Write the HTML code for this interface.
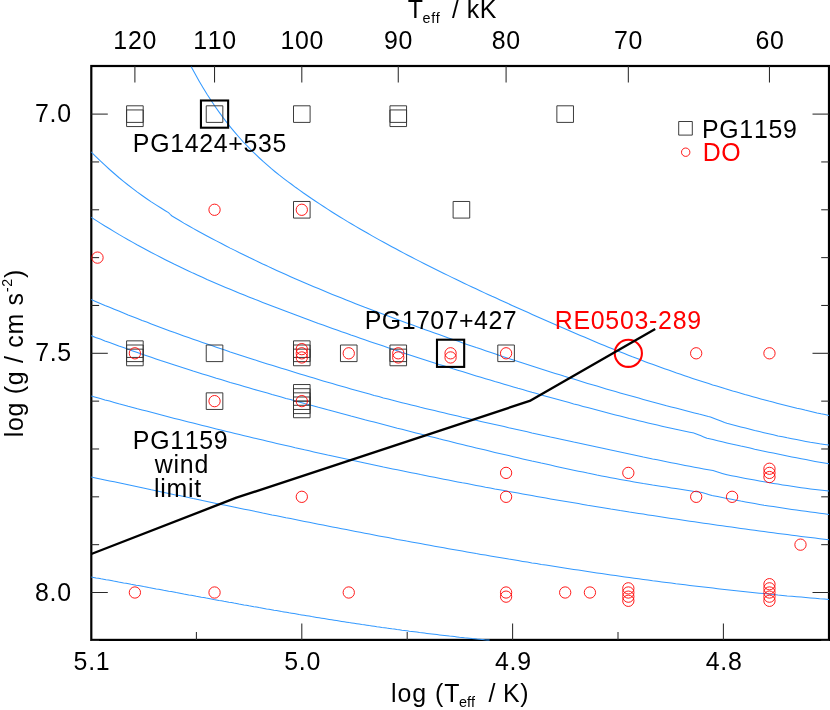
<!DOCTYPE html>
<html><head><meta charset="utf-8"><title>log Teff - log g</title>
<style>
html,body{margin:0;padding:0;background:#fff;}
body{width:830px;height:710px;overflow:hidden;}
svg{display:block;will-change:transform;}
text{font-family:"Liberation Sans",sans-serif;}
</style></head><body>
<svg width="830" height="710" viewBox="0 0 830 710">
<rect x="0" y="0" width="830" height="710" fill="#ffffff"/>
<defs><clipPath id="clip"><rect x="91.3" y="66.0" width="739.7" height="575.1"/></clipPath></defs>
<rect x="91.3" y="66.0" width="737.7" height="573.9" fill="none" stroke="#000" stroke-width="2.2"/>
<g stroke="#2a2a2a" stroke-width="1.05" fill="none">
<line x1="301.80" y1="639.9" x2="301.80" y2="623.4"/>
<line x1="512.60" y1="639.9" x2="512.60" y2="623.4"/>
<line x1="723.40" y1="639.9" x2="723.40" y2="623.4"/>
<line x1="196.40" y1="639.9" x2="196.40" y2="632.1"/>
<line x1="407.20" y1="639.9" x2="407.20" y2="632.1"/>
<line x1="618.00" y1="639.9" x2="618.00" y2="632.1"/>
<line x1="134.89" y1="66.0" x2="134.89" y2="82.5"/>
<line x1="214.54" y1="66.0" x2="214.54" y2="82.5"/>
<line x1="301.80" y1="66.0" x2="301.80" y2="82.5"/>
<line x1="398.26" y1="66.0" x2="398.26" y2="82.5"/>
<line x1="506.09" y1="66.0" x2="506.09" y2="82.5"/>
<line x1="628.33" y1="66.0" x2="628.33" y2="82.5"/>
<line x1="769.46" y1="66.0" x2="769.46" y2="82.5"/>
<line x1="91.3" y1="114.10" x2="107.8" y2="114.10"/>
<line x1="829.0" y1="114.10" x2="812.5" y2="114.10"/>
<line x1="91.3" y1="161.94" x2="99.1" y2="161.94"/>
<line x1="829.0" y1="161.94" x2="821.2" y2="161.94"/>
<line x1="91.3" y1="209.78" x2="99.1" y2="209.78"/>
<line x1="829.0" y1="209.78" x2="821.2" y2="209.78"/>
<line x1="91.3" y1="257.62" x2="99.1" y2="257.62"/>
<line x1="829.0" y1="257.62" x2="821.2" y2="257.62"/>
<line x1="91.3" y1="305.46" x2="99.1" y2="305.46"/>
<line x1="829.0" y1="305.46" x2="821.2" y2="305.46"/>
<line x1="91.3" y1="353.30" x2="107.8" y2="353.30"/>
<line x1="829.0" y1="353.30" x2="812.5" y2="353.30"/>
<line x1="91.3" y1="401.14" x2="99.1" y2="401.14"/>
<line x1="829.0" y1="401.14" x2="821.2" y2="401.14"/>
<line x1="91.3" y1="448.98" x2="99.1" y2="448.98"/>
<line x1="829.0" y1="448.98" x2="821.2" y2="448.98"/>
<line x1="91.3" y1="496.82" x2="99.1" y2="496.82"/>
<line x1="829.0" y1="496.82" x2="821.2" y2="496.82"/>
<line x1="91.3" y1="544.66" x2="99.1" y2="544.66"/>
<line x1="829.0" y1="544.66" x2="821.2" y2="544.66"/>
<line x1="91.3" y1="592.50" x2="107.8" y2="592.50"/>
<line x1="829.0" y1="592.50" x2="812.5" y2="592.50"/>
<line x1="91.3" y1="640.34" x2="99.1" y2="640.34"/>
<line x1="829.0" y1="640.34" x2="821.2" y2="640.34"/>
</g>
<g clip-path="url(#clip)" fill="none"  stroke="#3399ff" stroke-width="1.05" stroke-linejoin="round">
<path d="M191.2,66.7 L195.2,74.1 L199.2,81.2 L203.2,88.0 L207.2,94.5 L211.3,100.8 L215.3,106.7 L219.3,112.4 L223.3,117.9 L227.3,123.1 L231.3,128.1 L235.3,132.9 L239.3,137.5 L243.3,142.0 L247.4,146.2 L251.4,150.3 L255.4,154.2 L259.4,158.0 L263.4,161.7 L267.4,165.2 L271.4,168.7 L275.4,172.0 L279.4,175.2 L283.5,178.3 L287.5,181.4 L291.5,184.3 L295.5,187.3 L299.5,190.1 L303.5,193.0 L307.5,195.7 L311.5,198.5 L315.6,201.2 L319.6,203.9 L323.6,206.5 L327.6,209.1 L331.6,211.7 L335.6,214.2 L339.6,216.7 L343.6,219.1 L347.6,221.6 L351.7,224.0 L355.7,226.4 L359.7,228.7 L363.7,231.0 L367.7,233.3 L371.7,235.6 L375.7,237.9 L379.7,240.1 L383.7,242.3 L387.8,244.5 L391.8,246.7 L395.8,248.8 L399.8,251.0 L403.8,253.1 L407.8,255.2 L411.8,257.3 L415.8,259.4 L419.8,261.4 L423.9,263.5 L427.9,265.5 L431.9,267.5 L435.9,269.5 L439.9,271.5 L443.9,273.5 L447.9,275.4 L451.9,277.4 L455.9,279.3 L460.0,281.2 L464.0,283.2 L468.0,285.1 L472.0,287.0 L476.0,288.8 L480.0,290.7 L484.0,292.6 L488.0,294.4 L492.0,296.3 L496.1,298.1 L500.1,299.9 L504.1,301.8 L508.1,303.6 L512.1,305.4 L516.1,307.2 L520.1,309.0 L524.1,310.8 L528.2,312.6 L532.2,314.4 L536.2,316.2 L540.2,317.9 L544.2,319.7 L548.2,321.5 L552.2,323.2 L556.2,325.0 L560.2,326.7 L564.3,328.5 L568.3,330.2 L572.3,332.0 L576.3,333.7 L580.3,335.4 L584.3,337.1 L588.3,338.8 L592.3,340.5 L596.3,342.2 L600.4,343.9 L604.4,345.5 L608.4,347.2 L612.4,348.8 L616.4,350.4 L620.4,352.0 L624.4,353.6 L628.4,355.2 L632.4,356.8 L636.5,358.3 L640.5,359.8 L644.5,361.4 L648.5,362.9 L652.5,364.3 L656.5,365.8 L660.5,367.3 L664.5,368.7 L668.5,370.1 L672.6,371.6 L676.6,373.0 L680.6,374.3 L684.6,375.7 L688.6,377.1 L692.6,378.4 L696.6,379.7 L700.6,381.0 L704.6,382.3 L708.7,383.6 L712.7,384.9 L716.7,386.1 L720.7,387.3 L724.7,388.6 L728.7,389.8 L732.7,391.0 L736.7,392.1 L740.8,393.3 L744.8,394.5 L748.8,395.6 L752.8,396.7 L756.8,397.8 L760.8,398.9 L764.8,400.0 L768.8,401.1 L772.8,402.1 L776.9,403.2 L780.9,404.2 L784.9,405.2 L788.9,406.2 L792.9,407.2 L796.9,408.2 L800.9,409.1 L804.9,410.1 L808.9,411.0 L813.0,411.9 L817.0,412.9 L821.0,413.8 L825.0,414.6 L829.0,415.5"/>
<path d="M91.0,151.8 L95.6,156.4 L100.3,160.9 L104.9,165.2 L109.6,169.5 L114.2,173.5 L118.8,177.5 L123.5,181.3 L128.1,185.0 L132.8,188.6 L137.4,192.1 L142.1,195.5 L146.7,198.7 L151.3,201.9 L156.0,204.9 L160.6,207.8 L165.3,210.7 L168.5,212.6 L169.9,214.0 L170.2,214.3 L172.0,216.0 L174.5,217.5 L179.2,220.3 L183.8,223.1 L188.5,225.7 L193.1,228.4 L197.8,231.0 L202.4,233.5 L207.0,236.0 L211.7,238.5 L216.3,240.9 L221.0,243.3 L225.6,245.7 L230.2,248.1 L234.9,250.4 L239.5,252.8 L244.2,255.0 L248.8,257.3 L253.5,259.5 L258.1,261.8 L262.7,264.0 L267.4,266.1 L272.0,268.3 L276.7,270.4 L281.3,272.5 L285.9,274.6 L290.6,276.7 L295.2,278.7 L299.9,280.7 L304.5,282.7 L309.2,284.7 L313.8,286.7 L318.4,288.6 L323.1,290.6 L327.7,292.5 L332.4,294.4 L337.0,296.3 L341.6,298.1 L346.3,300.0 L350.9,301.8 L355.6,303.7 L360.2,305.5 L364.8,307.3 L369.5,309.0 L374.1,310.8 L378.8,312.6 L383.4,314.3 L388.1,316.1 L392.7,317.8 L397.3,319.5 L402.0,321.2 L406.6,322.9 L411.3,324.6 L415.9,326.3 L420.5,328.0 L425.2,329.7 L429.8,331.3 L434.5,333.0 L439.1,334.6 L443.8,336.3 L448.4,337.9 L453.0,339.5 L457.7,341.1 L462.3,342.8 L467.0,344.4 L471.6,346.0 L476.2,347.6 L480.9,349.1 L485.5,350.7 L490.2,352.3 L494.8,353.8 L499.5,355.4 L504.1,356.9 L508.7,358.5 L513.4,360.0 L518.0,361.5 L522.7,363.0 L527.3,364.5 L531.9,366.0 L536.6,367.5 L541.2,369.0 L545.9,370.5 L550.5,371.9 L555.2,373.4 L559.8,374.8 L564.4,376.3 L569.1,377.7 L573.7,379.1 L578.4,380.6 L583.0,382.0 L587.6,383.4 L592.3,384.8 L596.9,386.1 L601.6,387.5 L606.2,388.9 L610.8,390.2 L615.5,391.6 L620.1,392.9 L624.8,394.2 L629.4,395.5 L634.1,396.8 L638.7,398.1 L643.3,399.4 L648.0,400.7 L652.6,401.9 L657.3,403.2 L661.9,404.4 L666.5,405.7 L671.2,406.9 L675.8,408.1 L680.5,409.3 L685.1,410.5 L689.8,411.7 L694.4,412.9 L699.0,414.1 L703.7,415.2 L708.3,416.4 L710.5,416.9 L713.0,417.9 L717.5,419.7 L717.6,419.7 L722.2,421.6 L724.5,422.5 L726.9,423.2 L731.5,424.4 L736.2,425.7 L740.8,426.9 L745.5,428.1 L750.1,429.3 L754.7,430.5 L759.4,431.6 L764.0,432.7 L768.7,433.8 L773.3,434.8 L777.9,435.9 L782.6,436.8 L787.2,437.8 L791.9,438.7 L796.5,439.6 L801.2,440.5 L805.8,441.4 L810.4,442.2 L815.1,442.9 L819.7,443.7 L824.4,444.4 L829.0,445.1"/>
<path d="M91.0,217.1 L95.6,220.1 L100.3,223.1 L104.9,226.0 L109.6,228.8 L114.2,231.6 L118.8,234.4 L123.5,237.1 L128.1,239.8 L132.8,242.4 L137.4,245.0 L142.1,247.5 L146.7,250.0 L151.3,252.5 L156.0,254.9 L160.6,257.3 L165.3,259.7 L169.9,262.0 L174.5,264.3 L179.2,266.5 L183.8,268.7 L188.5,270.9 L193.1,273.1 L197.8,275.2 L202.4,277.3 L207.0,279.4 L211.7,281.4 L216.3,283.4 L221.0,285.4 L225.6,287.4 L230.2,289.3 L234.9,291.3 L239.5,293.2 L244.2,295.1 L248.8,296.9 L253.5,298.8 L258.1,300.6 L262.7,302.4 L267.4,304.2 L272.0,306.0 L276.7,307.8 L281.3,309.6 L285.9,311.3 L290.6,313.1 L295.2,314.8 L299.9,316.5 L304.5,318.2 L309.2,320.0 L313.8,321.7 L318.4,323.4 L323.1,325.0 L327.7,326.7 L332.4,328.4 L337.0,330.0 L341.6,331.7 L346.3,333.3 L350.9,335.0 L355.6,336.6 L360.2,338.2 L364.8,339.8 L369.5,341.4 L374.1,343.0 L378.8,344.6 L383.4,346.1 L388.1,347.7 L392.7,349.3 L397.3,350.8 L402.0,352.4 L406.6,353.9 L411.3,355.4 L415.9,356.9 L420.5,358.4 L425.2,359.9 L429.8,361.4 L434.5,362.9 L439.1,364.4 L443.8,365.8 L448.4,367.3 L453.0,368.8 L457.7,370.2 L462.3,371.6 L467.0,373.1 L471.6,374.5 L476.2,375.9 L480.9,377.3 L485.5,378.7 L490.2,380.1 L494.8,381.5 L499.5,382.8 L504.1,384.2 L508.7,385.6 L513.4,386.9 L518.0,388.3 L522.7,389.6 L527.3,390.9 L531.9,392.3 L536.6,393.6 L541.2,394.9 L545.9,396.2 L550.5,397.5 L555.2,398.8 L559.8,400.1 L564.4,401.3 L569.1,402.6 L573.7,403.9 L578.4,405.1 L583.0,406.4 L587.6,407.6 L592.3,408.8 L596.9,410.0 L601.6,411.3 L606.2,412.5 L610.8,413.7 L615.5,414.9 L620.1,416.0 L624.8,417.2 L629.4,418.4 L634.1,419.5 L638.7,420.7 L643.3,421.8 L648.0,422.9 L652.6,424.0 L657.3,425.1 L661.9,426.2 L666.5,427.2 L671.2,428.3 L675.8,429.3 L680.5,430.3 L685.1,431.2 L689.8,432.2 L694.0,433.0 L694.4,433.2 L699.0,435.0 L700.5,435.6 L703.7,436.9 L707.0,438.2 L708.3,438.5 L713.0,439.6 L717.6,440.7 L722.2,441.8 L726.9,442.9 L731.5,443.9 L736.2,445.0 L740.8,446.1 L745.5,447.1 L750.1,448.1 L754.7,449.2 L759.4,450.2 L764.0,451.2 L768.7,452.2 L773.3,453.1 L777.9,454.1 L782.6,455.1 L787.2,456.0 L791.9,456.9 L796.5,457.8 L801.2,458.7 L805.8,459.6 L810.4,460.5 L815.1,461.4 L819.7,462.2 L824.4,463.0 L829.0,463.8"/>
<path d="M91.0,299.4 L95.6,301.4 L100.3,303.4 L104.9,305.4 L109.6,307.3 L114.2,309.2 L118.8,311.1 L123.5,313.0 L128.1,314.9 L132.8,316.7 L137.4,318.5 L142.1,320.4 L146.7,322.1 L151.3,323.9 L156.0,325.7 L160.6,327.4 L165.3,329.2 L169.9,330.9 L174.5,332.6 L179.2,334.2 L183.8,335.9 L188.5,337.6 L193.1,339.2 L197.8,340.8 L202.4,342.4 L207.0,344.0 L211.7,345.6 L216.3,347.2 L221.0,348.8 L225.6,350.3 L230.2,351.9 L234.9,353.4 L239.5,354.9 L244.2,356.4 L248.8,357.9 L253.5,359.4 L258.1,360.9 L262.7,362.4 L267.4,363.9 L272.0,365.3 L276.7,366.8 L281.3,368.2 L285.9,369.6 L290.6,371.1 L295.2,372.5 L299.9,373.9 L304.5,375.3 L309.2,376.7 L313.8,378.1 L318.4,379.5 L323.1,380.9 L327.7,382.2 L332.4,383.6 L337.0,385.0 L341.6,386.3 L346.3,387.6 L350.9,388.9 L355.6,390.3 L360.2,391.6 L364.8,392.8 L369.5,394.1 L374.1,395.4 L378.8,396.6 L383.4,397.9 L388.1,399.1 L392.7,400.3 L397.3,401.5 L402.0,402.7 L406.6,403.8 L411.3,405.0 L415.9,406.1 L420.5,407.3 L425.2,408.4 L429.8,409.5 L434.5,410.6 L439.1,411.7 L443.8,412.8 L448.4,413.9 L453.0,415.0 L457.7,416.1 L462.3,417.2 L467.0,418.2 L471.6,419.3 L476.2,420.3 L480.9,421.4 L485.5,422.4 L490.2,423.5 L494.8,424.5 L499.5,425.6 L504.1,426.6 L508.7,427.7 L513.4,428.7 L518.0,429.7 L522.7,430.8 L527.3,431.8 L531.9,432.9 L536.6,433.9 L541.2,434.9 L545.9,435.9 L550.5,437.0 L555.2,438.0 L559.8,439.0 L564.4,440.0 L569.1,441.0 L573.7,442.1 L578.4,443.1 L583.0,444.1 L587.6,445.1 L592.3,446.1 L596.9,447.1 L601.6,448.1 L606.2,449.1 L610.8,450.1 L615.5,451.1 L620.1,452.1 L624.8,453.1 L629.4,454.0 L634.1,455.0 L638.7,456.0 L643.3,457.0 L648.0,457.9 L652.6,458.9 L657.3,459.8 L661.9,460.8 L666.5,461.7 L671.2,462.7 L675.8,463.6 L680.5,464.5 L685.1,465.4 L689.8,466.3 L694.4,467.2 L699.0,468.0 L703.7,468.9 L708.3,469.7 L713.0,470.5 L713.0,470.5 L717.6,471.9 L720.0,472.7 L722.2,473.4 L726.9,474.8 L727.0,474.8 L731.5,475.7 L736.2,476.6 L740.8,477.5 L745.5,478.4 L750.1,479.3 L754.7,480.1 L759.4,481.0 L764.0,481.8 L768.7,482.6 L773.3,483.4 L777.9,484.1 L782.6,484.9 L787.2,485.6 L791.9,486.3 L796.5,487.0 L801.2,487.7 L805.8,488.3 L810.4,488.9 L815.1,489.5 L819.7,490.0 L824.4,490.5 L829.0,491.0"/>
<path d="M91.0,335.6 L95.6,337.4 L100.3,339.1 L104.9,340.9 L109.6,342.6 L114.2,344.3 L118.8,346.0 L123.5,347.6 L128.1,349.3 L132.8,350.9 L137.4,352.5 L142.1,354.2 L146.7,355.8 L151.3,357.3 L156.0,358.9 L160.6,360.5 L165.3,362.0 L169.9,363.5 L174.5,365.0 L179.2,366.5 L183.8,368.0 L188.5,369.5 L193.1,371.0 L197.8,372.4 L202.4,373.9 L207.0,375.3 L211.7,376.7 L216.3,378.2 L221.0,379.6 L225.6,381.0 L230.2,382.4 L234.9,383.7 L239.5,385.1 L244.2,386.5 L248.8,387.8 L253.5,389.2 L258.1,390.5 L262.7,391.8 L267.4,393.1 L272.0,394.5 L276.7,395.8 L281.3,397.1 L285.9,398.4 L290.6,399.6 L295.2,400.9 L299.9,402.2 L304.5,403.5 L309.2,404.7 L313.8,406.0 L318.4,407.3 L323.1,408.5 L327.7,409.8 L332.4,411.0 L337.0,412.3 L341.6,413.5 L346.3,414.7 L350.9,416.0 L355.6,417.2 L360.2,418.4 L364.8,419.7 L369.5,420.9 L374.1,422.1 L378.8,423.3 L383.4,424.5 L388.1,425.7 L392.7,427.0 L397.3,428.2 L402.0,429.3 L406.6,430.5 L411.3,431.7 L415.9,432.9 L420.5,434.1 L425.2,435.3 L429.8,436.4 L434.5,437.6 L439.1,438.8 L443.8,439.9 L448.4,441.1 L453.0,442.2 L457.7,443.4 L462.3,444.5 L467.0,445.7 L471.6,446.8 L476.2,447.9 L480.9,449.0 L485.5,450.1 L490.2,451.3 L494.8,452.4 L499.5,453.5 L504.1,454.5 L508.7,455.6 L513.4,456.7 L518.0,457.8 L522.7,458.9 L527.3,459.9 L531.9,461.0 L536.6,462.0 L541.2,463.1 L545.9,464.1 L550.5,465.1 L555.2,466.2 L559.8,467.2 L564.4,468.2 L569.1,469.2 L573.7,470.2 L578.4,471.2 L583.0,472.1 L587.6,473.1 L592.3,474.0 L596.9,475.0 L601.6,475.9 L606.2,476.8 L610.8,477.7 L615.5,478.6 L620.1,479.4 L624.8,480.3 L629.4,481.1 L634.1,481.9 L638.7,482.7 L643.3,483.5 L648.0,484.2 L652.6,485.0 L657.3,485.7 L661.9,486.4 L666.5,487.1 L671.2,487.9 L675.8,488.6 L680.5,489.3 L685.1,490.0 L689.8,490.7 L694.4,491.4 L699.0,492.0 L702.0,492.5 L703.7,493.0 L707.0,494.0 L708.3,494.4 L712.0,495.6 L713.0,495.7 L717.6,496.6 L722.2,497.5 L726.9,498.4 L731.5,499.3 L736.2,500.2 L740.8,501.1 L745.5,501.9 L750.1,502.8 L754.7,503.6 L759.4,504.4 L764.0,505.2 L768.7,505.9 L773.3,506.6 L777.9,507.3 L782.6,508.0 L787.2,508.7 L791.9,509.4 L796.5,510.0 L801.2,510.7 L805.8,511.3 L810.4,511.9 L815.1,512.6 L819.7,513.2 L824.4,513.8 L829.0,514.4"/>
<path d="M91.0,396.0 L95.6,397.3 L100.3,398.6 L104.9,399.9 L109.6,401.1 L114.2,402.4 L118.8,403.7 L123.5,404.9 L128.1,406.2 L132.8,407.4 L137.4,408.7 L142.1,409.9 L146.7,411.1 L151.3,412.3 L156.0,413.6 L160.6,414.8 L165.3,416.0 L169.9,417.2 L174.5,418.4 L179.2,419.6 L183.8,420.7 L188.5,421.9 L193.1,423.1 L197.8,424.3 L202.4,425.4 L207.0,426.6 L211.7,427.8 L216.3,428.9 L221.0,430.0 L225.6,431.2 L230.2,432.3 L234.9,433.5 L239.5,434.6 L244.2,435.7 L248.8,436.8 L253.5,437.9 L258.1,439.0 L262.7,440.1 L267.4,441.2 L272.0,442.3 L276.7,443.4 L281.3,444.5 L285.9,445.5 L290.6,446.6 L295.2,447.7 L299.9,448.7 L304.5,449.8 L309.2,450.8 L313.8,451.9 L318.4,452.9 L323.1,453.9 L327.7,455.0 L332.4,456.0 L337.0,457.0 L341.6,458.0 L346.3,459.0 L350.9,460.1 L355.6,461.1 L360.2,462.0 L364.8,463.0 L369.5,464.0 L374.1,465.0 L378.8,466.0 L383.4,467.0 L388.1,467.9 L392.7,468.9 L397.3,469.8 L402.0,470.8 L406.6,471.7 L411.3,472.7 L415.9,473.6 L420.5,474.6 L425.2,475.5 L429.8,476.4 L434.5,477.3 L439.1,478.2 L443.8,479.2 L448.4,480.1 L453.0,481.0 L457.7,481.9 L462.3,482.8 L467.0,483.6 L471.6,484.5 L476.2,485.4 L480.9,486.3 L485.5,487.2 L490.2,488.0 L494.8,488.9 L499.5,489.7 L504.1,490.6 L508.7,491.4 L513.4,492.3 L518.0,493.1 L522.7,494.0 L527.3,494.8 L531.9,495.6 L536.6,496.4 L541.2,497.2 L545.9,498.1 L550.5,498.9 L555.2,499.7 L559.8,500.5 L564.4,501.3 L569.1,502.1 L573.7,502.8 L578.4,503.6 L583.0,504.4 L587.6,505.2 L592.3,505.9 L596.9,506.7 L601.6,507.5 L606.2,508.2 L610.8,509.0 L615.5,509.7 L620.1,510.5 L624.8,511.2 L629.4,512.0 L634.1,512.7 L638.7,513.4 L643.3,514.1 L648.0,514.9 L652.6,515.6 L657.3,516.3 L661.9,517.0 L666.5,517.7 L671.2,518.4 L675.8,519.1 L680.5,519.8 L685.1,520.5 L689.8,521.2 L694.4,521.8 L699.0,522.5 L703.7,523.2 L708.3,523.8 L713.0,524.5 L717.6,525.2 L722.2,525.8 L726.9,526.5 L731.5,527.1 L736.2,527.8 L740.8,528.4 L745.5,529.0 L750.1,529.7 L754.7,530.3 L759.4,530.9 L764.0,531.5 L768.7,532.2 L773.3,532.8 L777.9,533.4 L782.6,534.0 L787.2,534.6 L791.9,535.2 L796.5,535.8 L801.2,536.4 L805.8,537.0 L810.4,537.5 L815.1,538.1 L819.7,538.7 L824.4,539.3 L829.0,539.8"/>
<path d="M91.0,476.9 L95.6,477.9 L100.3,478.9 L104.9,479.9 L109.6,480.9 L114.2,481.8 L118.8,482.8 L123.5,483.8 L128.1,484.8 L132.8,485.8 L137.4,486.8 L142.1,487.8 L146.7,488.8 L151.3,489.8 L156.0,490.7 L160.6,491.7 L165.3,492.7 L169.9,493.7 L174.5,494.7 L179.2,495.6 L183.8,496.6 L188.5,497.6 L193.1,498.6 L197.8,499.5 L202.4,500.5 L207.0,501.5 L211.7,502.5 L216.3,503.4 L221.0,504.4 L225.6,505.3 L230.2,506.3 L234.9,507.3 L239.5,508.2 L244.2,509.2 L248.8,510.1 L253.5,511.1 L258.1,512.0 L262.7,513.0 L267.4,513.9 L272.0,514.9 L276.7,515.8 L281.3,516.7 L285.9,517.7 L290.6,518.6 L295.2,519.5 L299.9,520.5 L304.5,521.4 L309.2,522.3 L313.8,523.3 L318.4,524.2 L323.1,525.1 L327.7,526.0 L332.4,526.9 L337.0,527.8 L341.6,528.7 L346.3,529.6 L350.9,530.5 L355.6,531.4 L360.2,532.3 L364.8,533.2 L369.5,534.1 L374.1,535.0 L378.8,535.9 L383.4,536.7 L388.1,537.6 L392.7,538.5 L397.3,539.4 L402.0,540.2 L406.6,541.1 L411.3,541.9 L415.9,542.8 L420.5,543.6 L425.2,544.5 L429.8,545.3 L434.5,546.2 L439.1,547.0 L443.8,547.8 L448.4,548.7 L453.0,549.5 L457.7,550.3 L462.3,551.1 L467.0,551.9 L471.6,552.7 L476.2,553.6 L480.9,554.4 L485.5,555.1 L490.2,555.9 L494.8,556.7 L499.5,557.5 L504.1,558.3 L508.7,559.1 L513.4,559.8 L518.0,560.6 L522.7,561.4 L527.3,562.1 L531.9,562.9 L536.6,563.6 L541.2,564.4 L545.9,565.1 L550.5,565.8 L555.2,566.6 L559.8,567.3 L564.4,568.0 L569.1,568.7 L573.7,569.4 L578.4,570.1 L583.0,570.8 L587.6,571.5 L592.3,572.2 L596.9,572.9 L601.6,573.6 L606.2,574.2 L610.8,574.9 L615.5,575.6 L620.1,576.2 L624.8,576.9 L629.4,577.5 L634.1,578.2 L638.7,578.8 L643.3,579.4 L648.0,580.0 L652.6,580.7 L657.3,581.3 L661.9,581.9 L666.5,582.5 L671.2,583.1 L675.8,583.7 L680.5,584.2 L685.1,584.8 L689.8,585.4 L694.4,585.9 L699.0,586.5 L703.7,587.1 L708.3,587.6 L713.0,588.1 L717.6,588.7 L722.2,589.2 L726.9,589.7 L731.5,590.2 L736.2,590.7 L740.8,591.2 L745.5,591.7 L750.1,592.2 L754.7,592.7 L759.4,593.2 L764.0,593.6 L768.7,594.1 L773.3,594.5 L777.9,595.0 L782.6,595.4 L787.2,595.9 L791.9,596.3 L796.5,596.7 L801.2,597.1 L805.8,597.5 L810.4,597.9 L815.1,598.3 L819.7,598.7 L824.4,599.0 L829.0,599.4"/>
<path d="M91.0,577.0 L93.5,577.4 L96.0,577.9 L98.5,578.3 L101.0,578.8 L103.5,579.2 L106.0,579.7 L108.5,580.1 L111.1,580.6 L113.6,581.1 L116.1,581.5 L118.6,582.0 L121.1,582.4 L123.6,582.9 L126.1,583.3 L128.6,583.8 L131.1,584.3 L133.6,584.7 L136.1,585.2 L138.6,585.6 L141.1,586.1 L143.6,586.6 L146.2,587.0 L148.7,587.5 L151.2,587.9 L153.7,588.4 L156.2,588.9 L158.7,589.3 L161.2,589.8 L163.7,590.3 L166.2,590.7 L168.7,591.2 L171.2,591.6 L173.7,592.1 L176.2,592.6 L178.7,593.0 L181.2,593.5 L183.8,594.0 L186.3,594.4 L188.8,594.9 L191.3,595.3 L193.8,595.8 L196.3,596.3 L198.8,596.7 L201.3,597.2 L203.8,597.6 L206.3,598.1 L208.8,598.5 L211.3,599.0 L213.8,599.5 L216.3,599.9 L218.9,600.4 L221.4,600.8 L223.9,601.3 L226.4,601.7 L228.9,602.2 L231.4,602.6 L233.9,603.1 L236.4,603.5 L238.9,604.0 L241.4,604.4 L243.9,604.9 L246.4,605.3 L248.9,605.8 L251.4,606.2 L253.9,606.7 L256.5,607.1 L259.0,607.6 L261.5,608.0 L264.0,608.4 L266.5,608.9 L269.0,609.3 L271.5,609.7 L274.0,610.2 L276.5,610.6 L279.0,611.0 L281.5,611.5 L284.0,611.9 L286.5,612.3 L289.0,612.8 L291.6,613.2 L294.1,613.6 L296.6,614.0 L299.1,614.5 L301.6,614.9 L304.1,615.3 L306.6,615.7 L309.1,616.1 L311.6,616.6 L314.1,617.0 L316.6,617.4 L319.1,617.8 L321.6,618.2 L324.1,618.6 L326.7,619.0 L329.2,619.4 L331.7,619.8 L334.2,620.2 L336.7,620.6 L339.2,621.0 L341.7,621.4 L344.2,621.8 L346.7,622.2 L349.2,622.6 L351.7,622.9 L354.2,623.3 L356.7,623.7 L359.2,624.1 L361.7,624.5 L364.3,624.8 L366.8,625.2 L369.3,625.6 L371.8,625.9 L374.3,626.3 L376.8,626.7 L379.3,627.0 L381.8,627.4 L384.3,627.7 L386.8,628.1 L389.3,628.4 L391.8,628.8 L394.3,629.1 L396.8,629.5 L399.4,629.8 L401.9,630.2 L404.4,630.5 L406.9,630.8 L409.4,631.2 L411.9,631.5 L414.4,631.8 L416.9,632.1 L419.4,632.5 L421.9,632.8 L424.4,633.1 L426.9,633.4 L429.4,633.7 L431.9,634.0 L434.4,634.3 L437.0,634.6 L439.5,634.9 L442.0,635.2 L444.5,635.5 L447.0,635.8 L449.5,636.1 L452.0,636.3 L454.5,636.6 L457.0,636.9 L459.5,637.2 L462.0,637.4 L464.5,637.7 L467.0,637.9 L469.5,638.2 L472.1,638.5 L474.6,638.7 L477.1,639.0 L479.6,639.2 L482.1,639.4 L484.6,639.7 L487.1,639.9 L489.6,640.1"/>
</g>
<g fill="none" stroke="#333" stroke-width="0.95" stroke-linejoin="round">
<rect x="126.59" y="105.80" width="16.6" height="16.6"/>
<rect x="126.59" y="109.95" width="16.6" height="16.6"/>
<rect x="206.24" y="105.80" width="16.6" height="16.6"/>
<rect x="293.50" y="105.80" width="16.6" height="16.6"/>
<rect x="389.96" y="105.80" width="16.6" height="16.6"/>
<rect x="389.96" y="109.95" width="16.6" height="16.6"/>
<rect x="556.87" y="105.80" width="16.6" height="16.6"/>
<rect x="293.50" y="201.48" width="16.6" height="16.6"/>
<rect x="453.12" y="201.48" width="16.6" height="16.6"/>
<rect x="126.59" y="340.85" width="16.6" height="16.6"/>
<rect x="126.59" y="345.00" width="16.6" height="16.6"/>
<rect x="126.59" y="349.15" width="16.6" height="16.6"/>
<rect x="206.24" y="345.00" width="16.6" height="16.6"/>
<rect x="293.50" y="340.85" width="16.6" height="16.6"/>
<rect x="293.50" y="345.00" width="16.6" height="16.6"/>
<rect x="293.50" y="349.15" width="16.6" height="16.6"/>
<rect x="340.46" y="345.00" width="16.6" height="16.6"/>
<rect x="389.96" y="345.00" width="16.6" height="16.6"/>
<rect x="389.96" y="349.15" width="16.6" height="16.6"/>
<rect x="497.79" y="345.00" width="16.6" height="16.6"/>
<rect x="206.24" y="392.84" width="16.6" height="16.6"/>
<rect x="293.50" y="384.54" width="16.6" height="16.6"/>
<rect x="293.50" y="388.69" width="16.6" height="16.6"/>
<rect x="293.50" y="392.84" width="16.6" height="16.6"/>
<rect x="293.50" y="396.99" width="16.6" height="16.6"/>
<rect x="293.50" y="401.14" width="16.6" height="16.6"/>
<rect x="678.70" y="121.50" width="13.6" height="13.6"/>
</g>
<g fill="none" stroke="#000" stroke-width="2.1">
<rect x="200.94" y="100.50" width="27.2" height="27.2"/>
<rect x="436.98" y="339.70" width="27.2" height="27.2"/>
</g>
<g fill="none" stroke="#ff0000" stroke-width="0.9">
<circle cx="97.51" cy="257.62" r="5.65"/>
<circle cx="214.54" cy="209.78" r="5.65"/>
<circle cx="301.80" cy="209.78" r="5.65"/>
<circle cx="134.89" cy="353.30" r="5.65"/>
<circle cx="301.80" cy="349.15" r="5.65"/>
<circle cx="301.80" cy="353.30" r="5.65"/>
<circle cx="301.80" cy="357.45" r="5.65"/>
<circle cx="348.76" cy="353.30" r="5.65"/>
<circle cx="398.26" cy="353.30" r="5.65"/>
<circle cx="398.26" cy="357.45" r="5.65"/>
<circle cx="450.58" cy="353.30" r="5.65"/>
<circle cx="450.58" cy="357.45" r="5.65"/>
<circle cx="506.09" cy="353.30" r="5.65"/>
<circle cx="696.18" cy="353.30" r="5.65"/>
<circle cx="769.46" cy="353.30" r="5.65"/>
<circle cx="214.54" cy="401.14" r="5.65"/>
<circle cx="301.80" cy="401.14" r="5.65"/>
<circle cx="506.09" cy="472.90" r="5.65"/>
<circle cx="628.33" cy="472.90" r="5.65"/>
<circle cx="769.46" cy="468.75" r="5.65"/>
<circle cx="769.46" cy="472.90" r="5.65"/>
<circle cx="769.46" cy="477.05" r="5.65"/>
<circle cx="301.80" cy="496.82" r="5.65"/>
<circle cx="506.09" cy="496.82" r="5.65"/>
<circle cx="696.18" cy="496.82" r="5.65"/>
<circle cx="732.08" cy="496.82" r="5.65"/>
<circle cx="800.49" cy="544.66" r="5.65"/>
<circle cx="134.89" cy="592.50" r="5.65"/>
<circle cx="214.54" cy="592.50" r="5.65"/>
<circle cx="348.76" cy="592.50" r="5.65"/>
<circle cx="506.09" cy="592.50" r="5.65"/>
<circle cx="506.09" cy="596.65" r="5.65"/>
<circle cx="565.17" cy="592.50" r="5.65"/>
<circle cx="589.92" cy="592.50" r="5.65"/>
<circle cx="628.33" cy="588.35" r="5.65"/>
<circle cx="628.33" cy="592.50" r="5.65"/>
<circle cx="628.33" cy="596.65" r="5.65"/>
<circle cx="628.33" cy="600.80" r="5.65"/>
<circle cx="769.46" cy="584.20" r="5.65"/>
<circle cx="769.46" cy="588.35" r="5.65"/>
<circle cx="769.46" cy="592.50" r="5.65"/>
<circle cx="769.46" cy="596.65" r="5.65"/>
<circle cx="769.46" cy="600.80" r="5.65"/>
<circle cx="685.7" cy="152.2" r="4.2"/>
</g>
<circle cx="628.33" cy="353.30" r="13.6" fill="none" stroke="#ff0000" stroke-width="2.1"/>
<polyline fill="none" stroke="#000" stroke-width="2.35" stroke-linejoin="round" points="91.3,554.0 236.4,497.7 529.7,400.9 655.2,329.0"/>
<g style="font-kerning:none">
<text x="113.37" y="49.30" fill="#000" font-size="24.9" letter-spacing="0.700">120</text>
<text x="193.17" y="49.30" fill="#000" font-size="24.9" letter-spacing="0.700">110</text>
<text x="280.47" y="49.30" fill="#000" font-size="24.9" letter-spacing="0.700">100</text>
<text x="383.90" y="49.30" fill="#000" font-size="24.9" letter-spacing="0.700">90</text>
<text x="491.75" y="49.30" fill="#000" font-size="24.9" letter-spacing="0.700">80</text>
<text x="614.05" y="49.30" fill="#000" font-size="24.9" letter-spacing="0.700">70</text>
<text x="755.56" y="49.30" fill="#000" font-size="24.9" letter-spacing="0.700">60</text>
<text x="73.60" y="669.70" fill="#000" font-size="24.9" letter-spacing="0.700">5.1</text>
<text x="284.28" y="669.70" fill="#000" font-size="24.9" letter-spacing="0.700">5.0</text>
<text x="495.00" y="669.70" fill="#000" font-size="24.9" letter-spacing="0.700">4.9</text>
<text x="705.75" y="669.70" fill="#000" font-size="24.9" letter-spacing="0.700">4.8</text>
<text x="35.06" y="122.10" fill="#000" font-size="24.9" letter-spacing="0.700">7.0</text>
<text x="35.13" y="361.30" fill="#000" font-size="24.9" letter-spacing="0.700">7.5</text>
<text x="35.06" y="600.50" fill="#000" font-size="24.9" letter-spacing="0.700">8.0</text>
<text x="407.64" y="17.6" font-size="24.9">T</text>
<text x="422.59" y="22.60" fill="#000" font-size="14.4" letter-spacing="0.590">eff</text>
<text x="452.00" y="17.60" fill="#000" font-size="24.9" letter-spacing="0.495">/ kK</text>
<text x="390.92" y="701.80" fill="#000" font-size="24.9" letter-spacing="1.000">log (T</text>
<text x="458.99" y="706.80" fill="#000" font-size="14.4" letter-spacing="-0.010">eff</text>
<text x="488.40" y="701.80" fill="#000" font-size="24.9" letter-spacing="0.436">/ K)</text>
<text transform="translate(22.7,437.2) rotate(-90)" font-size="24.9" letter-spacing="0.72">log (g / cm s<tspan font-size="14.4" dy="-11">-2</tspan><tspan dy="11">)</tspan></text>
<text x="132.86" y="151.70" fill="#000" font-size="24.9" letter-spacing="0.670">PG1424+535</text>
<text x="364.66" y="328.90" fill="#000" font-size="24.9" letter-spacing="0.504">PG1707+427</text>
<text x="132.86" y="448.50" fill="#000" font-size="24.9" letter-spacing="0.671">PG1159</text>
<text x="154.64" y="472.80" fill="#000" font-size="24.9" letter-spacing="0.819">wind</text>
<text x="154.12" y="496.70" fill="#000" font-size="24.9" letter-spacing="0.676">limit</text>
<text x="701.96" y="137.80" fill="#000" font-size="24.9" letter-spacing="0.711">PG1159</text>
<text x="554.66" y="328.50" fill="#ff0000" font-size="24.9" letter-spacing="0.745">RE0503-289</text>
<text x="702.86" y="161.00" fill="#ff0000" font-size="24.9" letter-spacing="0.384">DO</text>
</g>
</svg>
</body></html>
